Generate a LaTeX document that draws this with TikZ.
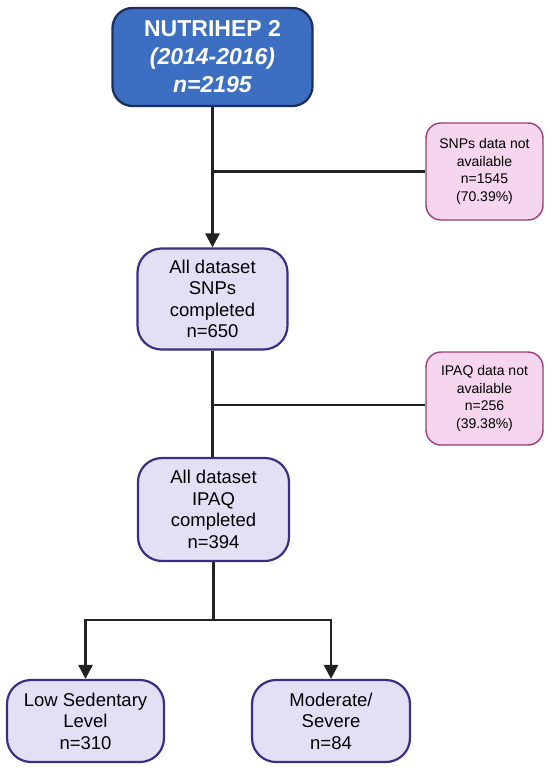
\documentclass[tikz,border=0pt]{standalone}
\usepackage{fontspec}
\setmainfont{Liberation Sans}
\usetikzlibrary{arrows.meta, positioning}
\definecolor{hepBlue}{HTML}{3C6FC2}
\definecolor{hepNavy}{HTML}{1D2F60}
\definecolor{setFill}{HTML}{E3E0F6}
\definecolor{setLine}{HTML}{3E2C86}
\definecolor{outFill}{HTML}{F6D5EF}
\definecolor{outLine}{HTML}{9B3C74}
\definecolor{lineDark}{HTML}{222222}

\begin{document}
\begin{tikzpicture}[x=1pt, y=1pt,
    cohort/.style={rectangle, rounded corners=20pt, draw=hepNavy, fill=hepBlue,
                   line width=2.3pt, inner sep=0pt, align=center, text=white,
                   font=\fontsize{23}{28}\selectfont\bfseries,
                   minimum width=200pt, minimum height=98pt},
    subset/.style={rectangle, rounded corners=24pt, draw=setLine, fill=setFill,
                   line width=2.2pt, inner sep=0pt, align=center,
                   font=\fontsize{18.5}{21.5}\selectfont},
    missing/.style={rectangle, rounded corners=15pt, draw=outLine, fill=outFill,
                    line width=1.4pt, inner sep=0pt, align=center,
                    font=\fontsize{14}{17.5}\selectfont,
                    minimum width=117pt},
    flow/.style={draw=lineDark, line width=2.8pt},
    arr/.style={flow, -{Triangle[length=14pt, width=14pt]}},
  ]
    \useasboundingbox (0,0) rectangle (550,-771);

    % Cohorte inicial
    \node[cohort] (cohort) at (212.5,-57) {NUTRIHEP 2\\\textit{(2014-2016)}\\\textit{n=2195}};

    % Subconjuntos
    \node[subset, minimum width=150pt, minimum height=101pt] (snpset) at (212.5,-299)
      {All dataset\\SNPs\\completed\\n=650};
    \node[subset, minimum width=151pt, minimum height=103pt] (ipaqset) at (213.5,-509.5)
      {All dataset\\IPAQ\\completed\\n=394};

    % Exclusiones
    \node[missing, minimum height=97pt] (snpmiss) at (484.5,-171.5)
      {SNPs data not\\available\\n=1545\\(70.39\%)};
    \node[missing, minimum height=93pt] (ipaqmiss) at (484.5,-398.5)
      {IPAQ data not\\available\\n=256\\(39.38\%)};

    % Niveles de sedentarismo
    \node[subset, minimum width=157pt, minimum height=82pt] (low) at (85.5,-721)
      {Low Sedentary\\Level\\n=310};
    \node[subset, minimum width=158pt, minimum height=82pt] (severe) at (331,-721)
      {Moderate/\\Severe\\n=84};

    % Conectores
    \coordinate (cut1) at (cohort.south |- snpmiss.west);
    \coordinate (cut2) at (212.5,-405);
    \coordinate (split) at (213.5,-620);

    \draw[arr] (cohort.south) -- (cohort.south |- snpset.north);
    \draw[flow] (cut1) -- (snpmiss.west);
    \draw[flow] (snpset.south) -- (snpset.south |- ipaqset.north);
    \draw[flow] (cut2) -- (ipaqmiss.west |- cut2);
    \draw[flow] (ipaqset.south) -- (split);
    \draw[arr] (split) -| (low.north);
    \draw[arr] (split) -| (severe.north);
  \end{tikzpicture}
\end{document}
